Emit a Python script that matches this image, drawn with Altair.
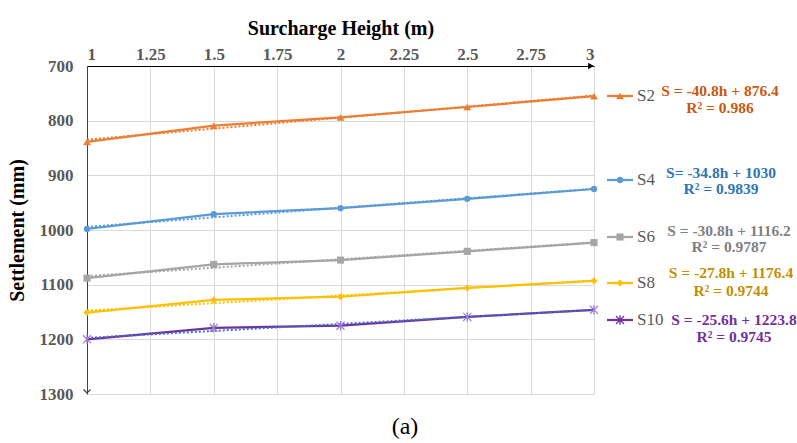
import altair as alt
import pandas as pd

# ---- data ----
heights = [1, 1.5, 2, 2.5, 3]
series_names = ["S2", "S4", "S6", "S8", "S10"]
s2 = [839, 809, 794, 775, 755]
s4 = [998, 971, 960, 943, 925]
s6 = [1088, 1063, 1055, 1039, 1023]
s8 = [1151, 1128, 1122, 1106, 1093]
s10 = [1200, 1179, 1175, 1159, 1146]
equations = ["S = -40.8h + 876.4", "S= -34.8h + 1030", "S = -30.8h + 1116.2",
             "S = -27.8h + 1176.4", "S = -25.6h + 1223.8"]
r2_labels = ["R² = 0.986", "R² = 0.9839", "R² = 0.9787", "R² = 0.9744", "R² = 0.9745"]
x_ticks = [1, 1.25, 1.5, 1.75, 2, 2.25, 2.5, 2.75, 3]
y_ticks = [700, 800, 900, 1000, 1100, 1200, 1300]

values = [s2, s4, s6, s8, s10]
rows = []
for name, vals in zip(series_names, values):
    for h, v in zip(heights, vals):
        rows.append({"series": name, "h": h, "settlement": v})
df = pd.DataFrame(rows)

# ---- styles ----
line_colors = {"S2": "#ED7D31", "S4": "#5B9BD5", "S6": "#A5A5A5", "S8": "#FFC000", "S10": "#7030A0"}
marker_colors = {"S2": "#ED7D31", "S4": "#5B9BD5", "S6": "#A5A5A5", "S8": "#FFC000", "S10": "#A17ED6"}
trend_colors = {"S2": "#ED7D31", "S4": "#5B9BD5", "S6": "#A5A5A5", "S8": "#FFC000", "S10": "#4472C4"}
text_colors = {"S2": "#C55A11", "S4": "#2E75B6", "S6": "#7F7F7F", "S8": "#BF9000", "S10": "#7030A0"}
asterisk = "M0,-1L0,1M-0.85,-0.85L0.85,0.85M-0.85,0.85L0.85,-0.85"
shapes = {"S2": "triangle-up", "S4": "circle", "S6": "square", "S8": "diamond", "S10": asterisk}
msizes = {"S2": 60, "S4": 40, "S6": 50, "S8": 50, "S10": 90}
# legend layout (pixels inside plot frame)
leg_y = {"S2": 30, "S4": 114, "S6": 171, "S8": 217, "S10": 254}
eq_y = {"S2": (25, 42), "S4": (107, 123), "S6": (165, 181), "S8": (207, 225), "S10": (254, 271)}
eq_x = {"S2": 633, "S4": 634, "S6": 642, "S8": 644, "S10": 647}

W, H = 507, 328
serif = "Liberation Serif"

xscale = alt.Scale(domain=[1, 3], nice=False, zero=False)
yscale = alt.Scale(domain=[700, 1300], reverse=True, nice=False, zero=False)

xaxis = alt.Axis(orient="top", values=x_ticks, labelExpr="datum.value", title="Surcharge Height (m)",
                 labelFont=serif, labelFontWeight="bold", labelFontSize=17, labelColor="#595959",
                 labelPadding=3, ticks=False, domainColor="#000000", domainWidth=1.2,
                 gridColor="#D9D9D9", titleFont=serif, titleFontWeight="bold", titleFontSize=20,
                 titleColor="#000000", titlePadding=7)
yaxis = alt.Axis(values=y_ticks, format="d", title="Settlement (mm)", labelFont=serif,
                 labelFontWeight="bold", labelFontSize=17, labelColor="#595959", labelPadding=14,
                 ticks=False, domainColor="#404040", domainWidth=1, gridColor="#D9D9D9",
                 titleFont=serif, titleFontWeight="bold", titleFontSize=20, titleColor="#000000",
                 titlePadding=12)

base = alt.Chart(df)
layers = [
    base.mark_line(opacity=0).encode(
        x=alt.X("h:Q", scale=xscale, axis=xaxis),
        y=alt.Y("settlement:Q", scale=yscale, axis=yaxis),
    )
]

one = pd.DataFrame({"a": [0]})
for name in series_names:
    sub = base.transform_filter(alt.datum.series == name)
    layers.append(sub.mark_line(color=line_colors[name], strokeWidth=2.25).encode(
        x=alt.X("h:Q", scale=xscale), y=alt.Y("settlement:Q", scale=yscale)))
    layers.append(sub.transform_regression("h", "settlement").mark_line(
        color=trend_colors[name], strokeWidth=2, strokeDash=[2, 2]).encode(
        x=alt.X("h:Q", scale=xscale), y=alt.Y("settlement:Q", scale=yscale)))
    if name == "S10":
        pm = sub.mark_point(shape=shapes[name], filled=False, stroke=marker_colors[name],
                            strokeWidth=1.3, size=msizes[name], opacity=1)
    else:
        pm = sub.mark_point(shape=shapes[name], filled=True, color=marker_colors[name],
                            size=msizes[name], opacity=1)
    layers.append(pm.encode(x=alt.X("h:Q", scale=xscale), y=alt.Y("settlement:Q", scale=yscale)))

    # legend entry
    ly = leg_y[name]
    layers.append(alt.Chart(one).mark_rule(color=line_colors[name], strokeWidth=2.25).encode(
        x=alt.value(520), x2=alt.value(546), y=alt.value(ly)))
    if name == "S10":
        lm = alt.Chart(one).mark_point(shape=shapes[name], filled=False, stroke=line_colors[name],
                                       strokeWidth=1.3, size=msizes[name], opacity=1)
    else:
        lm = alt.Chart(one).mark_point(shape=shapes[name], filled=True, color=marker_colors[name],
                                       size=msizes[name], opacity=1)
    layers.append(lm.encode(x=alt.value(533), y=alt.value(ly)))
    layers.append(alt.Chart(one).mark_text(text=name, font=serif, fontSize=17, color="#595959",
                                           align="left", baseline="middle").encode(
        x=alt.value(550), y=alt.value(ly)))
    y1, y2 = eq_y[name]
    layers.append(alt.Chart(one).mark_text(text=equations[series_names.index(name)], font=serif,
                                           fontSize=15.5, fontWeight="bold", color=text_colors[name],
                                           align="center", baseline="middle").encode(
        x=alt.value(eq_x[name]), y=alt.value(y1)))
    layers.append(alt.Chart(one).mark_text(text=r2_labels[series_names.index(name)], font=serif,
                                           fontSize=15.5, fontWeight="bold", color=text_colors[name],
                                           align="center", baseline="middle").encode(
        x=alt.value(eq_x[name]), y=alt.value(y2)))

# axis arrowheads
layers.append(alt.Chart(one).mark_point(shape="triangle-right", filled=True, color="#000000",
                                        size=45, opacity=1).encode(
    x=alt.X("xv:Q", scale=xscale), y=alt.Y("yv:Q", scale=yscale), xOffset=alt.value(-3)
).transform_calculate(xv="3", yv="700"))
layers.append(alt.Chart(one).mark_point(shape="M-1,-1L0,0L1,-1", filled=False, stroke="#404040",
                                        strokeWidth=1.2, size=50, opacity=1).encode(
    x=alt.X("xv:Q", scale=xscale), y=alt.Y("yv:Q", scale=yscale), yOffset=alt.value(-1)
).transform_calculate(xv="1", yv="1300"))

# caption
layers.append(alt.Chart(one).mark_text(text="(a)", font=serif, fontSize=24, color="#000000",
                                       align="center", baseline="middle").encode(
    x=alt.value(318), y=alt.value(361)))

chart = alt.layer(*layers).properties(
    width=W, height=H,
    autosize=alt.AutoSizeParams(type="none"),
    padding={"left": 87, "top": 66, "right": 797 - 87 - W, "bottom": 443 - 66 - H},
).configure_view(strokeWidth=0).configure(background="#FFFFFF")

chart.save("out.html", embed_options={"renderer": "svg", "actions": False})
